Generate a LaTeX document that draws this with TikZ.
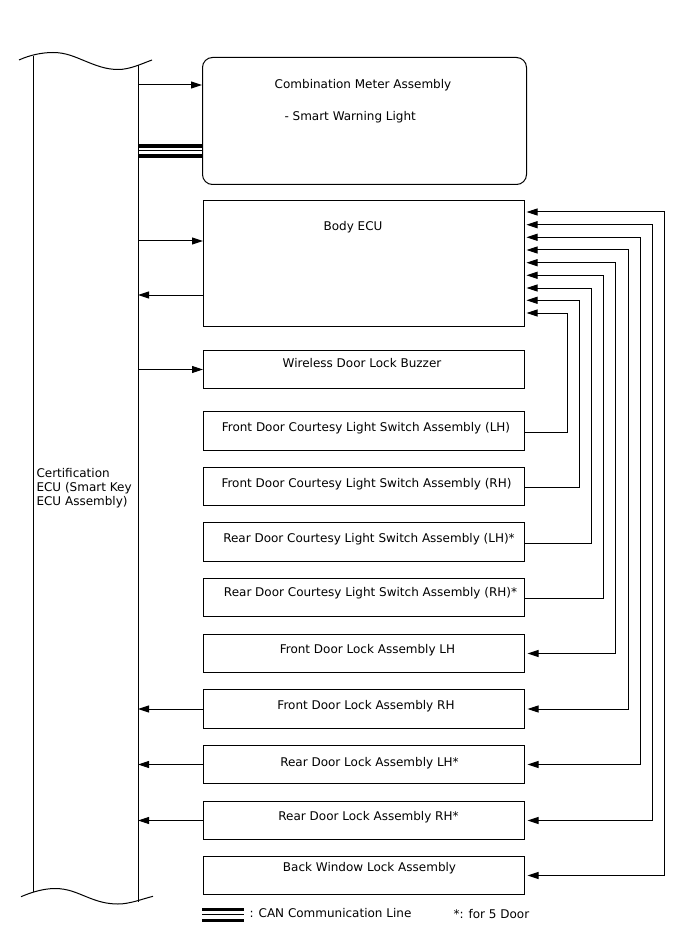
\documentclass[tikz,border=0pt]{standalone}
\usepackage{fontspec}
\setmainfont{DejaVu Sans}
\usetikzlibrary{arrows.meta}
\begin{document}
\begin{tikzpicture}[x=1pt,y=-1pt,line width=1pt,
  tip/.tip={Triangle[length=11pt,width=7pt]},
  arr/.style={-tip},
  arrb/.style={tip-tip,shorten <=2.5pt,shorten >=2.5pt},
  arrin/.style={-tip,shorten >=2.5pt},
  box/.style={draw,anchor=north west,inner sep=0pt,minimum width=321pt,minimum height=38pt},
  lbl/.style={anchor=base,inner sep=0pt,font=\fontsize{12}{14}\selectfont},
  canthick/.style={line width=3.8pt},
  canthin/.style={line width=1pt}]
\useasboundingbox (0,0) rectangle (688,949);
% certification ECU column
\draw (33,55.7) -- (33,892);
\draw (138,65) -- (138,902);
\draw (19,60) .. controls (30,55) and (42,52.5) .. (53,52.5) .. controls (66,52.5) and (75,57) .. (85,61) .. controls (96,65.5) and (106,69.5) .. (118,69.5) .. controls (130,69.5) and (141,64) .. (152,60);
\draw (21,896.7) .. controls (32,892) and (44,888.5) .. (55,888.5) .. controls (68,888.5) and (77,893) .. (87,897) .. controls (98,901.5) and (107,904) .. (118,904) .. controls (130,904) and (142,899) .. (153,896.3);
\node[lbl,anchor=base west,align=left] (cert) at (36,505) {Certification\\ECU (Smart Key\\ECU Assembly)};
% boxes
\node[box,rounded corners=10pt,minimum width=324pt,minimum height=127pt] (cm) at (202,57) {};
\node[box,minimum height=126pt] (body) at (203,200) {};
\node[box] (buz) at (203,350) {};
\node[box,minimum height=39pt] (fcl) at (203,411) {};
\node[box] (fcr) at (203,467) {};
\node[box,minimum height=39pt] (rcl) at (203,522) {};
\node[box] (rcr) at (203,578) {};
\node[box] (fdl) at (203,634) {};
\node[box,minimum height=39pt] (fdr) at (203,689) {};
\node[box] (rdl) at (203,745) {};
\node[box] (rdr) at (203,801) {};
\node[box] (bw) at (203,856) {};
% labels
\node[lbl] (tcm) at (363,88.5) {Combination Meter Assembly};
\node[lbl,anchor=base west] (tsw) at (284,121) {- Smart Warning Light};
\node[lbl] (tbody) at (353,230.5) {Body ECU};
\node[lbl] (tbuz) at (362,367.5) {Wireless Door Lock Buzzer};
\node[lbl] (tfcl) at (366,431.5) {Front Door Courtesy Light Switch Assembly (LH)};
\node[lbl] (tfcr) at (366.5,487.5) {Front Door Courtesy Light Switch Assembly (RH)};
\node[lbl] (trcl) at (369,542.5) {Rear Door Courtesy Light Switch Assembly (LH)*};
\node[lbl] (trcr) at (370.5,596.5) {Rear Door Courtesy Light Switch Assembly (RH)*};
\node[lbl] (tfdl) at (367.5,653.5) {Front Door Lock Assembly LH};
\node[lbl] (tfdr) at (366,709.5) {Front Door Lock Assembly RH};
\node[lbl] (trdl) at (369.5,766.5) {Rear Door Lock Assembly LH*};
\node[lbl] (trdr) at (368.5,820.5) {Rear Door Lock Assembly RH*};
\node[lbl] (tbw) at (369.5,871.5) {Back Window Lock Assembly};
% left connectors
\coordinate (colR) at (138,0);
\coordinate (e85) at (138,85);
\coordinate (e241) at (138,241);
\coordinate (e295) at (138,295);
\coordinate (c1) at (138,145.9);
\coordinate (c2) at (138,150.6);
\coordinate (c3) at (138,156.3);
\draw[arr] (e85) -- (cm.west |- e85);
\draw[canthick] (c1) -- (cm.west |- c1);
\draw[canthin] (c2) -- (cm.west |- c2);
\draw[canthick] (c3) -- (cm.west |- c3);
\draw[arr] (e241) -- (body.west |- e241);
\draw[arr] (body.west |- e295) -- (e295);
\draw[arr] (colR |- buz.west) -- (buz.west);
\draw[arr] (fdr.west) -- (fdr.west -| colR);
\draw[arr] (rdl.west) -- (rdl.west -| colR);
\draw[arr] (rdr.west) -- (rdr.west -| colR);
% right bus
\coordinate (b1) at (524,212);
\coordinate (b2) at (524,224.7);
\coordinate (b3) at (524,237.3);
\coordinate (b4) at (524,250);
\coordinate (b5) at (524,262.7);
\coordinate (b6) at (524,275.3);
\coordinate (b7) at (524,288);
\coordinate (b8) at (524,300.3);
\coordinate (b9) at (524,313);
\draw[arrin] ([yshift=-1.5pt]fcl.east) -- ++(42,0) |- (b9);
\draw[arrin] ([yshift=-1pt]fcr.east) -- ++(54,0) |- (b8);
\draw[arrin] ([yshift=-1pt]rcl.east) -- ++(66,0) |- (b7);
\draw[arrin] ([yshift=-0.5pt]rcr.east) -- ++(78,0) |- (b6);
\draw[arrb] (fdl.east) -- ++(90.7,0) |- (b5);
\draw[arrb] (fdr.east) -- ++(103,0) |- (b4);
\draw[arrb] (rdl.east) -- ++(115,0) |- (b3);
\draw[arrb] (rdr.east) -- ++(127,0) |- (b2);
\draw[arrb] (bw.east) -- ++(139.3,0) |- (b1);
% legend
\coordinate (l1a) at (202,909.5);
\coordinate (l1b) at (244,909.5);
\coordinate (l2a) at (202,914.5);
\coordinate (l2b) at (244,914.5);
\coordinate (l3a) at (202,920.5);
\coordinate (l3b) at (244,920.5);
\draw[canthick] (l1a) -- (l1b);
\draw[canthin] (l2a) -- (l2b);
\draw[canthick] (l3a) -- (l3b);
\node[lbl,anchor=base west] (tcan) at (249,917.5) {: CAN Communication Line};
\node[lbl,anchor=base west] (tdoor) at (453,918.5) {*: for 5 Door};
\end{tikzpicture}
\end{document}
